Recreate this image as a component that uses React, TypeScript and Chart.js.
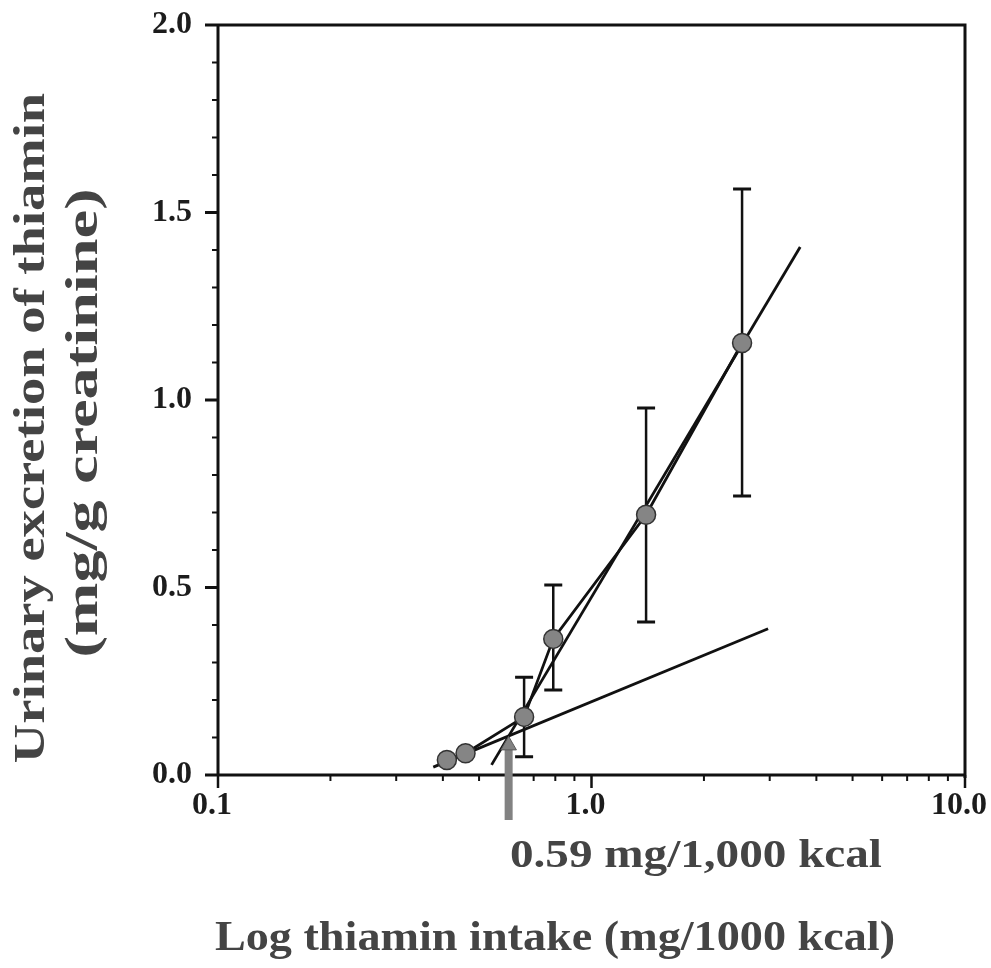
import React, { useEffect, useRef } from 'react';
import { Chart, registerables } from 'chart.js';

Chart.register(...registerables);

// ---- data ----
const intake = [0.41, 0.46, 0.66, 0.79, 1.40, 2.53];
const excretion = [0.040, 0.058, 0.155, 0.363, 0.694, 1.152];
const errLow: (number | null)[] = [null, null, 0.049, 0.227, 0.408, 0.744];
const errHigh: (number | null)[] = [null, null, 0.261, 0.507, 0.979, 1.563];

const steepX = [0.54, 3.62];
const steepY = [0.027, 1.408];
const shallowX = [0.377, 2.97];
const shallowY = [0.021, 0.39];
const arrowX = [0.6, 0.6];
const arrowY = [-0.12, 0.079];

const xMajorTicks = [0.1, 1, 10];
const xMinorTicks = [0.2, 0.3, 0.4, 0.5, 0.6, 0.7, 0.8, 0.9, 2, 3, 4, 5, 6, 7, 8, 9];
const yMajorTicks = [0, 0.5, 1.0, 1.5, 2.0];
const yMinorTicks = [0.1, 0.2, 0.3, 0.4, 0.6, 0.7, 0.8, 0.9, 1.1, 1.2, 1.3, 1.4, 1.6, 1.7, 1.8, 1.9];

const xTitle = 'Log thiamin intake (mg/1000 kcal)';
const yTitle = ['Urinary excretion of thiamin', '(mg/g creatinine)'];
const annotation = '0.59 mg/1,000 kcal';

const SERIF = '"Liberation Serif", "Times New Roman", serif';
const TITLE_COLOR = '#444444';

const toXY = (xs: number[], ys: number[]) => xs.map((x, i) => ({ x, y: ys[i] }));

const framePlugin = {
  id: 'frameAndErrors',
  beforeDatasetsDraw(chart: any) {
    const { ctx, chartArea, scales } = chart;
    const { left, right, top, bottom } = chartArea;
    const x = scales.x;
    const y = scales.y;
    ctx.save();
    ctx.strokeStyle = '#111';
    ctx.lineCap = 'butt';
    // frame lines
    ctx.lineWidth = 3;
    ctx.beginPath();
    ctx.moveTo(left, top);
    ctx.lineTo(left, bottom);
    ctx.moveTo(left, bottom);
    ctx.lineTo(right, bottom);
    ctx.moveTo(left, top);
    ctx.lineTo(right, top);
    ctx.moveTo(right, top - 1.5);
    ctx.lineTo(right, bottom + 3);
    ctx.stroke();
    // y ticks
    yMajorTicks.forEach((v) => {
      const py = y.getPixelForValue(v);
      ctx.beginPath();
      ctx.moveTo(left - 13, py);
      ctx.lineTo(left, py);
      ctx.stroke();
    });
    ctx.lineWidth = 2;
    yMinorTicks.forEach((v) => {
      const py = y.getPixelForValue(v);
      ctx.beginPath();
      ctx.moveTo(left - 6, py);
      ctx.lineTo(left, py);
      ctx.stroke();
    });
    // x ticks
    ctx.lineWidth = 2.5;
    xMajorTicks.forEach((v) => {
      const px = x.getPixelForValue(v);
      ctx.beginPath();
      ctx.moveTo(px, bottom);
      ctx.lineTo(px, bottom + 13);
      ctx.stroke();
    });
    ctx.lineWidth = 2;
    xMinorTicks.forEach((v) => {
      const px = x.getPixelForValue(v);
      ctx.beginPath();
      ctx.moveTo(px, bottom);
      ctx.lineTo(px, bottom + 6);
      ctx.stroke();
    });
    // error bars
    ctx.strokeStyle = '#111';
    intake.forEach((v, i) => {
      const lo = errLow[i];
      const hi = errHigh[i];
      if (lo == null || hi == null) return;
      const px = x.getPixelForValue(v);
      const pl = y.getPixelForValue(lo);
      const ph = y.getPixelForValue(hi);
      ctx.lineWidth = 2.5;
      ctx.beginPath();
      ctx.moveTo(px, pl);
      ctx.lineTo(px, ph);
      ctx.stroke();
      ctx.lineWidth = 3;
      ctx.beginPath();
      ctx.moveTo(px - 9, pl);
      ctx.lineTo(px + 9, pl);
      ctx.moveTo(px - 9, ph);
      ctx.lineTo(px + 9, ph);
      ctx.stroke();
    });
    ctx.restore();
  },
  afterDraw(chart: any) {
    const { ctx } = chart;
    ctx.save();
    ctx.fillStyle = TITLE_COLOR;
    ctx.textBaseline = 'alphabetic';
    // x axis title
    ctx.save();
    ctx.font = `bold 42px ${SERIF}`;
    ctx.translate(555, 950);
    ctx.scale(1.1, 1);
    ctx.textAlign = 'center';
    ctx.fillText(xTitle, 0, 0);
    ctx.restore();
    // annotation under the arrow
    ctx.save();
    ctx.font = `bold 41px ${SERIF}`;
    ctx.translate(510, 867);
    ctx.scale(1.15, 1);
    ctx.textAlign = 'left';
    ctx.fillText(annotation, 0, 0);
    ctx.restore();
    // y axis title (two lines)
    const yLines = [
      { x: 44, y: 428, size: 44, stretch: 1.24 },
      { x: 97, y: 423, size: 46, stretch: 1.4 },
    ];
    yTitle.forEach((line, i) => {
      const p = yLines[i];
      ctx.save();
      ctx.font = `bold ${p.size}px ${SERIF}`;
      ctx.translate(p.x, p.y);
      ctx.rotate(-Math.PI / 2);
      ctx.scale(p.stretch, 1);
      ctx.textAlign = 'center';
      ctx.fillText(line, 0, 0);
      ctx.restore();
    });
    ctx.restore();
  },
};

export default function App() {
  const canvasRef = useRef<HTMLCanvasElement | null>(null);

  useEffect(() => {
    if (!canvasRef.current) return;
    const tickFont = { family: SERIF, size: 32, weight: 'bold' as const };
    const chart = new Chart(canvasRef.current, {
      type: 'scatter',
      data: {
        datasets: [
          {
            label: 'Mean excretion',
            data: toXY(intake, excretion),
            showLine: false,
            pointRadius: 9.5,
            pointHoverRadius: 9.5,
            pointBackgroundColor: '#858585',
            pointBorderColor: '#333',
            pointBorderWidth: 1.5,
            order: 0,
          },
          {
            label: 'Arrow',
            data: toXY(arrowX, arrowY),
            showLine: true,
            borderColor: '#828282',
            borderWidth: 8,
            borderCapStyle: 'butt',
            pointStyle: 'triangle',
            pointRadius: [0, 9],
            pointBackgroundColor: '#828282',
            pointBorderColor: '#5a5a5a',
            pointBorderWidth: 1,
            clip: false,
            order: 1,
          },
          {
            label: 'Connecting line',
            data: toXY(intake, excretion),
            showLine: true,
            borderColor: '#111',
            borderWidth: 2.8,
            pointRadius: 0,
            order: 2,
          },
          {
            label: 'Upper regression',
            data: toXY(steepX, steepY),
            showLine: true,
            borderColor: '#111',
            borderWidth: 2.8,
            pointRadius: 0,
            order: 3,
          },
          {
            label: 'Lower regression',
            data: toXY(shallowX, shallowY),
            showLine: true,
            borderColor: '#111',
            borderWidth: 2.8,
            pointRadius: 0,
            order: 4,
          },
        ],
      } as any,
      options: {
        responsive: false,
        animation: false,
        devicePixelRatio: 1,
        layout: { padding: { top: 25, right: 26, left: 0, bottom: 0 } },
        plugins: {
          legend: { display: false },
          tooltip: { enabled: false },
        },
        scales: {
          x: {
            type: 'logarithmic',
            min: 0.1,
            max: 10,
            grid: { display: false, drawTicks: false },
            border: { display: false },
            afterBuildTicks: (s: any) => {
              s.ticks = xMajorTicks.map((v) => ({ value: v }));
            },
            afterFit: (s: any) => {
              s.height = 193;
              s.paddingLeft = 0;
              s.paddingRight = 0;
            },
            ticks: {
              autoSkip: false,
              maxRotation: 0,
              minRotation: 0,
              padding: 12,
              labelOffset: -6,
              color: '#1c1c1c',
              font: tickFont,
              callback: (v: any) => Number(v).toFixed(1),
            },
          },
          y: {
            type: 'linear',
            min: 0,
            max: 2,
            grid: { display: false, drawTicks: false },
            border: { display: false },
            afterBuildTicks: (s: any) => {
              s.ticks = yMajorTicks.map((v) => ({ value: v }));
            },
            afterFit: (s: any) => {
              s.width = 218;
              s.paddingTop = 0;
              s.paddingBottom = 0;
            },
            ticks: {
              padding: 26,
              color: '#1c1c1c',
              font: tickFont,
              callback: (v: any) => Number(v).toFixed(1),
            },
          },
        },
      } as any,
      plugins: [framePlugin],
    });
    return () => chart.destroy();
  }, []);

  return (
    <div style={{ position: 'absolute', left: 0, top: 0, width: 991, height: 968, background: '#fff' }}>
      <canvas ref={canvasRef} width={991} height={968} style={{ display: 'block' }} />
    </div>
  );
}
